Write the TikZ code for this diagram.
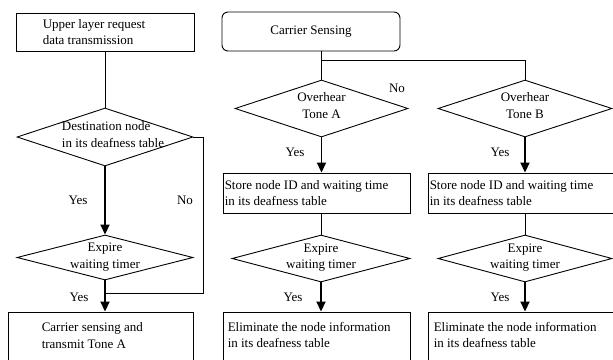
\documentclass[tikz,border=0pt]{standalone}
\usepackage{fontspec}
\setmainfont{Liberation Serif}
\usetikzlibrary{shapes.geometric,arrows.meta}
\begin{document}
\begin{tikzpicture}[x=1pt,y=-1pt,
  every node/.style={font=\fontsize{13}{16.5}\selectfont},
  box/.style={draw,line width=0.9pt,inner sep=0pt,rectangle},
  dia/.style={draw,line width=0.9pt,diamond,inner sep=0pt},
  lab/.style={anchor=west,align=left,inner sep=0pt},
  ctr/.style={align=center,inner sep=0pt},
  thin/.style={line width=0.9pt},
  thick/.style={line width=1.8pt,-{Triangle[width=9pt,length=10pt]}},
  yes/.style={inner sep=0pt}]
\useasboundingbox (0,0) rectangle (613,359);
% left column
\node[box,minimum width=178,minimum height=38,
  label={[lab,xshift=27pt]west:{Upper layer request\\data transmission}}] (b1) at (105,32) {};
\node[dia,minimum width=176,minimum height=58,
  label={[align=left,inner sep=0pt,xshift=8pt,yshift=2.5pt]center:{Destination node\\in its deafness table}}] (d1) at (105,137) {};
\node[dia,minimum width=176,minimum height=45,
  label={[ctr,yshift=0.5pt]center:{Expire\\waiting timer}}] (d2) at (105,257.5) {};
\node[box,minimum width=185,minimum height=50,
  label={[lab,xshift=34pt,yshift=1.5pt]west:{Carrier sensing and\\transmit Tone A}}] (b3) at (100.5,337) {};
\coordinate (c1) at (105,293);
\draw[thin] (b1.south) -- (d1.north);
\draw[thick] (d1.south) -- (d2.north);
\draw[thin] (d1.east) -- ++(10,0) |- (c1);
\draw[thick] (d2.south) -- (d2.south |- b3.north);
\node[yes] (y1) at (78,200) {Yes};
\node[yes] (n1) at (185,200) {No};
\node[yes] (y2) at (79,297) {Yes};
% carrier sensing
\node[box,rounded corners=6pt,minimum width=178,minimum height=39] (cs) at (311,31.5) {Carrier Sensing};
% middle column
\node[dia,minimum width=173,minimum height=57,
  label={[ctr,yshift=3pt]center:{Overhear\\Tone A}}] (dA) at (321.5,108.5) {};
\node[box,minimum width=187,minimum height=40,
  label={[lab,xshift=2pt]west:{Store node ID and waiting time\\in its deafness table}}] (sA) at (316.5,193) {};
\node[dia,minimum width=178,minimum height=47,
  label={[ctr,yshift=1pt]center:{Expire\\waiting timer}}] (eA) at (321,258.5) {};
\node[box,minimum width=187,minimum height=50,
  label={[lab,xshift=5pt,yshift=2pt]west:{Eliminate the node information\\in its deafness table}}] (fA) at (316.5,337) {};
% right column
\node[dia,minimum width=174,minimum height=57,
  label={[ctr,yshift=3pt]center:{Overhear\\Tone B}}] (dB) at (525,108.5) {};
\node[box,minimum width=187,minimum height=40,
  label={[lab,xshift=2pt]west:{Store node ID and waiting time\\in its deafness table}}] (sB) at (521.5,193) {};
\node[dia,minimum width=174,minimum height=47,
  label={[ctr,yshift=1pt]center:{Expire\\waiting timer}}] (eB) at (525,258.5) {};
\node[box,minimum width=187,minimum height=50,
  label={[lab,xshift=6pt,yshift=2pt]west:{Eliminate the node information\\in its deafness table}}] (fB) at (521.5,337) {};
\coordinate (jn) at (321.5,60);
\draw[thin] (cs.south -| dA.north) -- (dA.north);
\draw[thin] (jn) -| (dB.north);
\draw[thick] (dA.south) -- (dA.south |- sA.north);
\draw[thin] (sA.south -| eA.north) -- (eA.north);
\draw[thick] (eA.south) -- (eA.south |- fA.north);
\draw[thick] (dB.south) -- (dB.south |- sB.north);
\draw[thin] (sB.south -| eB.north) -- (eB.north);
\draw[thick] (eB.south) -- (eB.south |- fB.north);
\node[yes] (yA1) at (295,152) {Yes};
\node[yes] (nA) at (397,88) {No};
\node[yes] (yA2) at (293,297) {Yes};
\node[yes] (yB1) at (500,152) {Yes};
\node[yes] (yB2) at (500,297) {Yes};
\end{tikzpicture}
\end{document}
